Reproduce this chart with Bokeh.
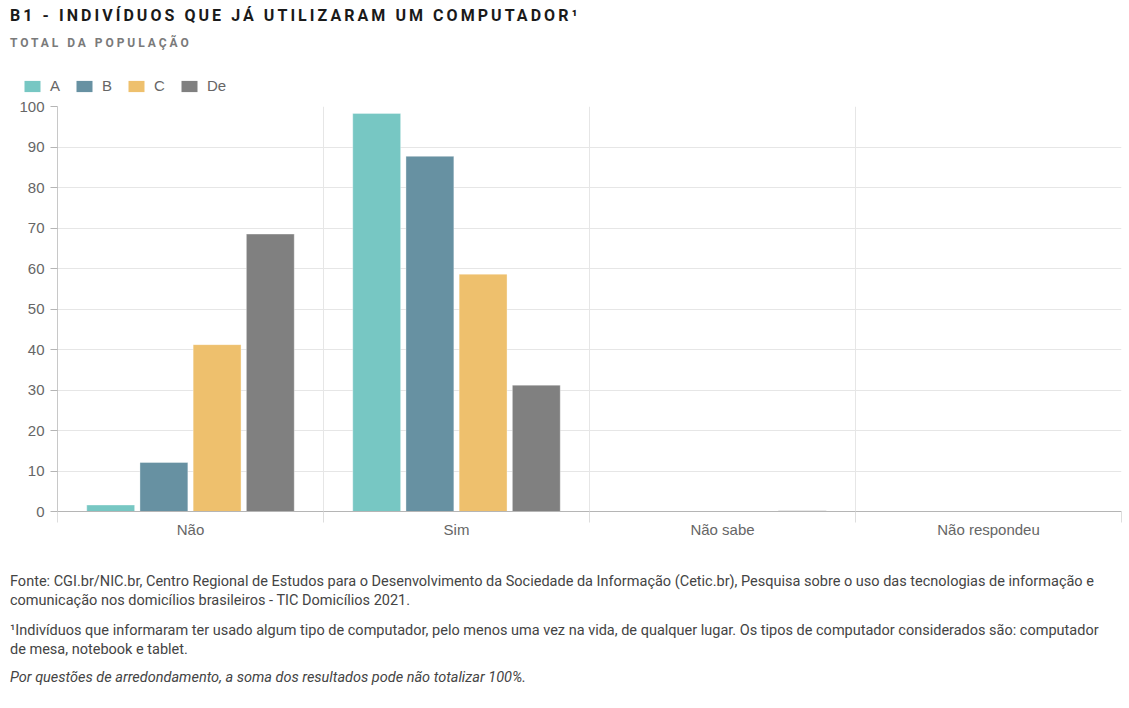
from bokeh.plotting import figure
from bokeh.models import (ColumnDataSource, Range1d, FixedTicker, Legend, LegendItem, Div)
from bokeh.transform import dodge
from bokeh.layouts import column, row
from bokeh.embed import file_html
from bokeh.resources import INLINE

categories = ["Não", "Sim", "Não sabe", "Não respondeu"]
series_names = ["A", "B", "C", "De"]
A = [1.6, 98.3, 0.0, 0.0]
B = [12.1, 87.7, 0.0, 0.0]
C = [41.2, 58.6, 0.0, 0.0]
De = [68.5, 31.2, 0.2, 0.0]
colors = ["#77c7c3", "#6791a2", "#eec06d", "#808080"]
y_ticks = list(range(0, 101, 10))

title_text = "B1 - INDIVÍDUOS QUE JÁ UTILIZARAM UM COMPUTADOR¹"
subtitle_text = "TOTAL DA POPULAÇÃO"
footer1 = ("Fonte: CGI.br/NIC.br, Centro Regional de Estudos para o Desenvolvimento da Sociedade da Informação (Cetic.br), "
           "Pesquisa sobre o uso das tecnologias de informação e<br>comunicação nos domicílios brasileiros - TIC Domicílios 2021.")
footer2 = ("¹Indivíduos que informaram ter usado algum tipo de computador, pelo menos uma vez na vida, de qualquer lugar. "
           "Os tipos de computador considerados são: computador<br>de mesa, notebook e tablet.")
footer3 = "Por questões de arredondamento, a soma dos resultados pode não totalizar 100%."

n = len(categories)
centers = [i + 0.5 for i in range(n)]
src = ColumnDataSource(dict(x=centers, A=A, B=B, C=C, De=De))

W = 1124
p = figure(width=W, height=451, output_backend="svg", toolbar_location=None,
           x_range=Range1d(0, n), y_range=Range1d(0, 100),
           min_border_left=57, min_border_right=3, min_border_top=12, min_border_bottom=34)
p.outline_line_color = None
p.background_fill_color = "white"

# legend-only strip above the chart
lf = figure(width=400, height=44, output_backend="svg", toolbar_location=None,
            x_axis_type=None, y_axis_type=None,
            min_border_left=0, min_border_right=0, min_border_top=0, min_border_bottom=0,
            x_range=Range1d(0, 1), y_range=Range1d(0, 1))
lf.outline_line_color = None
lf.grid.visible = False

offsets = [-0.3, -0.1, 0.1, 0.3]
items = []
for name, off, col in zip(series_names, offsets, colors):
    p.vbar(x=dodge("x", off), top=name, width=0.18, source=src,
           fill_color=col, line_color="white", line_alpha=0.35, line_width=1)
    lr = lf.vbar(x=[-1], top=[-1], bottom=[-1], width=0, fill_color=col, line_color=None)
    items.append(LegendItem(label=name, renderers=[lr]))

legend = Legend(items=items, orientation="horizontal", location=(22, 0),
                padding=0, margin=0, spacing=14, glyph_width=20, glyph_height=14,
                label_height=14, label_width=0, label_standoff=8, label_text_font="Liberation Sans",
                label_text_font_size="15px", label_text_color="#666666",
                border_line_color=None, background_fill_alpha=0)
lf.add_layout(legend, "center")

# x axis
p.xaxis.ticker = FixedTicker(ticks=centers, minor_ticks=list(range(n + 1)))
p.xaxis.major_label_overrides = {c: lab for c, lab in zip(centers, categories)}
p.xaxis.major_tick_out = 0
p.xaxis.major_tick_in = 0
p.xaxis.minor_tick_out = 11
p.xaxis.minor_tick_in = 0
p.xaxis.minor_tick_line_color = "#dddddd"
p.xaxis.axis_line_color = "#b5b5b5"
p.xaxis.major_label_standoff = -2
p.xaxis.major_label_text_font = "Liberation Sans"
p.xaxis.major_label_text_font_size = "15px"
p.xaxis.major_label_text_color = "#666666"

# y axis
p.yaxis.ticker = FixedTicker(ticks=y_ticks)
p.yaxis.major_tick_out = 7
p.yaxis.major_tick_in = 0
p.yaxis.minor_tick_line_color = None
p.yaxis.major_tick_line_color = "#b5b5b5"
p.yaxis.axis_line_color = "#c8c8c8"
p.yaxis.major_label_standoff = 6
p.yaxis.major_label_text_font = "Liberation Sans"
p.yaxis.major_label_text_font_size = "15px"
p.yaxis.major_label_text_color = "#666666"

p.xgrid.ticker = FixedTicker(ticks=list(range(n + 1)))
p.xgrid.grid_line_color = "#e6e6e6"
p.ygrid.grid_line_color = "#e6e6e6"

base = {"font-family": "Roboto", "padding-left": "10px"}
title = Div(text=title_text, width=W, height=30, margin=0,
            styles={**base, "font-size": "16px", "font-weight": "bold", "letter-spacing": "3.05px",
                    "color": "#1a1a1a", "line-height": "18px", "padding-top": "7px",
                    "white-space": "nowrap"})
subtitle = Div(text=subtitle_text, width=W, height=20, margin=0,
               styles={**base, "font-size": "12px", "font-weight": "bold", "letter-spacing": "2.95px",
                       "color": "#7a7a7a", "line-height": "14px", "padding-top": "6px"})
footer = Div(text=(f'<div style="margin:0">{footer1}</div>'
                   f'<div style="margin-top:11px">{footer2}</div>'
                   f'<div style="margin-top:9px;font-style:italic">{footer3}</div>'),
             width=1119, height=150, margin=0,
             styles={**base, "font-size": "14.5px", "color": "#444444", "line-height": "19px",
                     "padding-top": "27px", "white-space": "nowrap"})

layout = column(title, subtitle, row(lf), p, footer, spacing=0)
open("out.html", "w").write(file_html(layout, INLINE))
